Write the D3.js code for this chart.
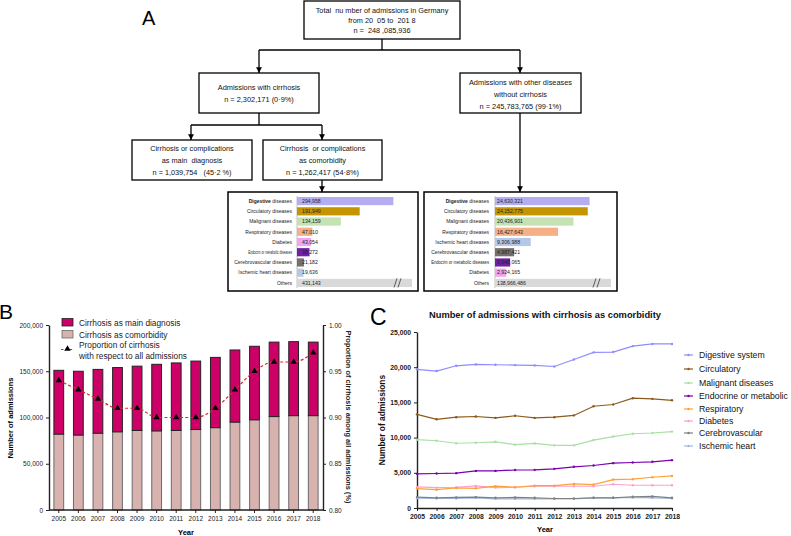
<!DOCTYPE html>
<html><head><meta charset="utf-8">
<script src="https://cdn.jsdelivr.net/npm/d3@7"></script>
<style>body{margin:0;background:#fff}svg{display:block}text{font-family:"Liberation Sans",Arial,sans-serif}</style>
</head><body>
<svg id="c" width="791" height="536"></svg>
<script>
// ---------------- DATA ----------------
const flowTotal = ["Total  nu mber of admissions in Germany", "from 20  05 to  201 8", "n =  248 ,085,936"];
const flowCirr = ["Admissions with cirrhosis", "n = 2,302,171 (0·9%)"];
const flowOther = ["Admissions with other diseases", "without cirrhosis", "n = 245,783,765 (99·1%)"];
const flowMain = ["Cirrhosis or complications", "as main  diagnosis", "n = 1,039,754   (45·2 %)"];
const flowComorb = ["Cirrhosis  or complications", "as comorbidity", "n = 1,262,417 (54·8%)"];

const comorbCats = ["Digestive diseases", "Circulatory diseases", "Malignant diseases", "Respiratory diseases", "Diabetes", "Endocrin or metabolic diseases", "Cerebrovascular diseases", "Ischemic heart diseases", "Others"];
const comorbVals = [294958, 191949, 134159, 47010, 43054, 38272, 21182, 19636, 431143];
const otherCats = ["Digestive diseases", "Circulatory diseases", "Malignant diseases", "Respiratory diseases", "Ischemic heart diseases", "Cerebrovascular diseases", "Endocrin or metabolic diseases", "Diabetes", "Others"];
const otherVals = [24630321, 24152775, 20436901, 16427643, 9306988, 4987421, 3948065, 2924165, 138966486];

const years = [2005, 2006, 2007, 2008, 2009, 2010, 2011, 2012, 2013, 2014, 2015, 2016, 2017, 2018];
const mainDiag = [69000, 69000, 69000, 69500, 69500, 72000, 73000, 74000, 76000, 78000, 79500, 80500, 80000, 79500];
const comorbidity = [82000, 81000, 83000, 84500, 86000, 85500, 86000, 87000, 89000, 95000, 97500, 101000, 102000, 102000];
const proportion = [0.94, 0.93, 0.92, 0.91, 0.91, 0.90, 0.90, 0.90, 0.91, 0.93, 0.95, 0.96, 0.96, 0.97];

const seriesNames = ["Digestive system", "Circulatory", "Malignant diseases", "Endocrine or metabolic", "Respiratory", "Diabetes", "Cerebrovascular", "Ischemic heart"];
const digestive = [19700, 19450, 20200, 20400, 20350, 20300, 20250, 20100, 21100, 22100, 22150, 23000, 23300, 23300];
const circulatory = [13300, 12600, 12900, 13000, 12800, 13100, 12800, 12900, 13150, 14450, 14700, 15600, 15500, 15300];
const malignant = [9700, 9550, 9200, 9270, 9400, 9000, 9170, 8900, 8900, 9650, 10150, 10550, 10650, 10850];
const endocrine = [4850, 4900, 4950, 5270, 5270, 5400, 5420, 5560, 5850, 6040, 6370, 6460, 6560, 6800];
const respiratory = [2760, 2600, 2850, 2800, 3100, 2950, 3180, 3180, 3420, 3330, 4040, 4090, 4370, 4560];
const diabetes = [3000, 2900, 2950, 3140, 2900, 2950, 3090, 3090, 3090, 3090, 3370, 3230, 3230, 3230];
const cerebro = [1550, 1450, 1500, 1550, 1450, 1500, 1450, 1350, 1350, 1450, 1450, 1600, 1650, 1450];
const ischemic = [1400, 1350, 1350, 1450, 1300, 1300, 1300, 1300, 1300, 1450, 1450, 1500, 1450, 1350];

const bTicks = [0, 50000, 100000, 150000, 200000];
const bRightTicks = [0.80, 0.85, 0.90, 0.95, 1.00];
const cTicks = [0, 5000, 10000, 15000, 20000, 25000];

// ---------------- STYLE ----------------
const catColors = {
  "Digestive diseases": "#b4aef0", "Circulatory diseases": "#c49500", "Malignant diseases": "#c5e2b3",
  "Respiratory diseases": "#f5b086", "Diabetes": "#f4a4ef", "Endocrin or metabolic diseases": "#6f1fa8",
  "Cerebrovascular diseases": "#757070", "Ischemic heart diseases": "#b6c8ea", "Others": "#d9d9d9"
};
const lineColors = ["#8f8cff", "#8c5a1c", "#a8e0a5", "#7a00b2", "#ffa03a", "#ff9fd0", "#808080", "#9dbbe0"];
const seriesVals = [digestive, circulatory, malignant, endocrine, respiratory, diabetes, cerebro, ischemic];
const OS = '"Open Sans",sans-serif';

const svg = d3.select("#c");

// ---------------- PANEL A: FLOWCHART ----------------
svg.append("text").attr("x", 142).attr("y", 25).attr("font-size", 20).text("A");
svg.append("defs").append("marker").attr("id", "ah").attr("viewBox", "0 0 10 10")
  .attr("refX", 10).attr("refY", 5).attr("markerWidth", 4.5).attr("markerHeight", 4.5).attr("orient", "auto")
  .append("path").attr("d", "M0,0L10,5L0,10z").attr("fill", "#000");

function box(x, y, w, h, lines, ys, fs) {
  svg.append("rect").attr("x", x).attr("y", y).attr("width", w).attr("height", h)
    .attr("fill", "#fff").attr("stroke", "#000").attr("stroke-width", 1.3);
  lines.forEach((t, i) => svg.append("text").attr("x", x + w / 2).attr("y", ys[i])
    .attr("text-anchor", "middle").attr("font-size", fs).style("white-space", "pre").attr("fill", "#111").text(t));
}
function seg(pts, arrow) {
  const p = svg.append("path").attr("d", d3.line()(pts)).attr("fill", "none").attr("stroke", "#000").attr("stroke-width", 1.3);
  if (arrow) p.attr("marker-end", "url(#ah)");
}
seg([[382, 39], [382, 50]]);
seg([[259, 50], [520, 50]]);
seg([[259, 50], [259, 73]], true);
seg([[520, 50], [520, 73]], true);
seg([[259, 113], [259, 125]]);
seg([[191, 125], [322, 125]]);
seg([[191, 125], [191, 140]], true);
seg([[322, 125], [322, 140]], true);
seg([[322, 180], [322, 192]], true);
seg([[520, 113], [520, 192]], true);

box(304, 1, 156, 38, flowTotal, [12.5, 22.5, 32.5], 7.3);
box(199, 73, 120, 40, flowCirr, [89.5, 101.5], 7.4);
box(460, 73, 121, 40, flowOther, [84.5, 96.5, 108.5], 7.4);
box(132, 140, 120, 40, flowMain, [150.5, 162.5, 174.5], 7.3);
box(263, 140, 119, 40, flowComorb, [150.5, 162.5, 174.5], 7.3);

function barPanel(bx, by, bw, bh, cats, vals, labelX, barX, maxV, maxW, othersW, padTxt, endoW) {
  svg.append("rect").attr("x", bx).attr("y", by).attr("width", bw).attr("height", bh)
    .attr("fill", "#fff").attr("stroke", "#000").attr("stroke-width", 1.5);
  const yb = d3.scaleBand().domain(cats).range([by + 5, by + bh - 4]).paddingInner(0.2);
  const xs = d3.scaleLinear().domain([0, maxV]).range([0, maxW]);
  svg.append("line").attr("x1", barX).attr("x2", barX).attr("y1", by + 4).attr("y2", by + bh - 3)
    .attr("stroke", "#9a9a9a").attr("stroke-width", 0.6);
  cats.forEach((c, i) => {
    const w = c === "Others" ? othersW : xs(vals[i]);
    const y0 = yb(c), h = yb.bandwidth();
    svg.append("rect").attr("x", barX).attr("y", y0).attr("width", w).attr("height", h).attr("fill", catColors[c]);
    const ty = y0 + h / 2 + 1.8;
    const t = svg.append("text").attr("x", labelX).attr("y", ty).attr("text-anchor", "end")
      .attr("font-size", 5).attr("fill", "#222");
    if (c.startsWith("Digestive")) {
      t.append("tspan").attr("font-weight", "bold").text("Digestive");
      t.append("tspan").text(" diseases");
    } else t.text(c);
    if (c.startsWith("Endocrin")) {
      const nat = t.node().getComputedTextLength();
      t.attr("x", 0).attr("y", 0).attr("transform", `translate(${labelX},${ty}) scale(${endoW / nat},1)`);
    }
    svg.append("text").attr("x", barX + padTxt).attr("y", ty).attr("font-size", 5.2)
      .attr("fill", "#222").text(d3.format(",")(vals[i]));
    if (c === "Others") {
      const bxk = barX + othersW - 18;
      [0, 4].forEach(o => svg.append("line").attr("x1", bxk + o).attr("x2", bxk + o + 3).attr("y1", y0 + h + 0.5).attr("y2", y0 - 0.5)
        .attr("stroke", "#222").attr("stroke-width", 0.7));
    }
  });
}
barPanel(228, 192, 190, 99, comorbCats, comorbVals, 292, 297, 300000, 98, 115, 5, 44);
barPanel(424, 192, 193, 99, otherCats, otherVals, 489, 495, 25000000, 96, 116, 2, 58);

// ---------------- PANEL B ----------------
svg.append("text").attr("x", -1).attr("y", 319).attr("font-size", 21).text("B");
const xB = d3.scaleBand().domain(years).range([49, 323]).paddingInner(0.5).paddingOuter(0.25);
const yB = d3.scaleLinear().domain([0, 200000]).range([510, 325]);
const yR = d3.scaleLinear().domain([0.80, 1.00]).range([510, 325]);
const gB = svg.append("g");
years.forEach((yr, i) => {
  gB.append("rect").attr("x", xB(yr)).attr("width", xB.bandwidth()).attr("y", yB(comorbidity[i]))
    .attr("height", yB(0) - yB(comorbidity[i])).attr("fill", "#d7b2ae").attr("stroke", "#6b6b6b").attr("stroke-width", 1);
  gB.append("rect").attr("x", xB(yr)).attr("width", xB.bandwidth()).attr("y", yB(comorbidity[i] + mainDiag[i]))
    .attr("height", yB(comorbidity[i]) - yB(comorbidity[i] + mainDiag[i])).attr("fill", "#cc0066").attr("stroke", "#222").attr("stroke-width", 1);
});
const lineB = d3.line().x((d, i) => xB(years[i]) + xB.bandwidth() / 2).y(d => yR(d)).curve(d3.curveMonotoneX);
gB.append("path").attr("d", lineB(proportion)).attr("fill", "none").attr("stroke", "#d42a2a")
  .attr("stroke-width", 1.2).attr("stroke-dasharray", "3,2.2");
proportion.forEach((p, i) => gB.append("path").attr("d", d3.symbol(d3.symbolTriangle, 18)())
  .attr("transform", `translate(${xB(years[i]) + xB.bandwidth() / 2},${yR(p)})`).attr("fill", "#000"));

function styleAxis(g, fs, bold) {
  g.selectAll("path").attr("stroke", "#222").attr("stroke-width", 1.4);
  g.selectAll("line").attr("stroke", "#222").attr("stroke-width", 1);
  g.selectAll("text").attr("font-size", fs).attr("fill", "#222").attr("font-family", '"Liberation Sans",Arial,sans-serif')
    .attr("font-weight", bold ? "bold" : "normal");
}
const axL = svg.append("g").attr("transform", "translate(49,0)")
  .call(d3.axisLeft(yB).tickValues(bTicks).tickFormat(d3.format(",")).tickSize(3).tickSizeOuter(0));
styleAxis(axL, 6.5, false);
const axR = svg.append("g").attr("transform", "translate(323,0)")
  .call(d3.axisRight(yR).tickValues(bRightTicks).tickFormat(d3.format(".2f")).tickSize(3).tickSizeOuter(0));
styleAxis(axR, 6.5, false);
const axBB = svg.append("g").attr("transform", "translate(0,510)")
  .call(d3.axisBottom(xB).tickSize(3).tickSizeOuter(0));
axBB.select("path").attr("d", "M49,0H323");
styleAxis(axBB, 6.5, false);
svg.append("text").attr("x", 186).attr("y", 535).attr("text-anchor", "middle").attr("font-size", 7.5)
  .attr("font-weight", "bold").attr("font-family", OS).text("Year");
svg.append("text").attr("transform", "translate(13,418) rotate(-90)").attr("text-anchor", "middle")
  .attr("font-size", 7.5).attr("font-weight", "bold").attr("font-family", OS).text("Number of admissions");
svg.append("text").attr("transform", "translate(346,417) rotate(90)").attr("text-anchor", "middle")
  .attr("font-size", 7.4).attr("font-weight", 600).attr("font-family", OS).attr("fill", "#222")
  .text("Proportion of cirrhosis among all admissions (%)");

// legend B
const legB = svg.append("g").attr("font-family", OS).attr("font-size", 8.3).attr("fill", "#222");
legB.append("rect").attr("x", 62).attr("y", 318.5).attr("width", 11).attr("height", 7.5).attr("fill", "#cc0066").attr("stroke", "#222").attr("stroke-width", 0.8);
legB.append("rect").attr("x", 62).attr("y", 330.5).attr("width", 11).attr("height", 7.5).attr("fill", "#d7b2ae").attr("stroke", "#6b6b6b").attr("stroke-width", 0.8);
legB.append("line").attr("x1", 61).attr("x2", 74).attr("y1", 349.5).attr("y2", 349.5).attr("stroke", "#d42a2a").attr("stroke-width", 1.2).attr("stroke-dasharray", "2.5,1.8");
legB.append("path").attr("d", d3.symbol(d3.symbolTriangle, 18)()).attr("transform", "translate(67.5,349)").attr("fill", "#000");
[["Cirrhosis as main diagnosis", 325.5], ["Cirrhosis as comorbidity", 337.5], ["Proportion of cirrhosis", 347.5], ["with respect to all admissions", 358.5]]
  .forEach(([t, y]) => legB.append("text").attr("x", 79).attr("y", y).text(t));

// ---------------- PANEL C ----------------
svg.append("text").attr("x", 370).attr("y", 325).attr("font-size", 23).text("C");
svg.append("text").attr("x", 545).attr("y", 318).attr("text-anchor", "middle").attr("font-size", 9.3)
  .attr("font-weight", "bold").attr("font-family", OS).attr("fill", "#111")
  .text("Number of admissions with cirrhosis as comorbidity");
const xC = d3.scaleLinear().domain([2005, 2018]).range([417, 672]);
const yC = d3.scaleLinear().domain([0, 25000]).range([508, 332]);
const axCL = svg.append("g").attr("transform", "translate(417,0)")
  .call(d3.axisLeft(yC).tickValues(cTicks).tickFormat(d3.format(",")).tickSize(3).tickSizeOuter(0));
styleAxis(axCL, 6.8, true);
const axCB = svg.append("g").attr("transform", "translate(0,508)")
  .call(d3.axisBottom(xC).tickValues(years).tickFormat(d3.format("d")).tickSize(3).tickSizeOuter(0));
styleAxis(axCB, 6.8, true);
svg.append("text").attr("x", 545).attr("y", 532).attr("text-anchor", "middle").attr("font-size", 7.5)
  .attr("font-weight", "bold").attr("font-family", OS).text("Year");
svg.append("text").attr("transform", "translate(385,420) rotate(-90)").attr("text-anchor", "middle")
  .attr("font-size", 8.4).attr("font-weight", 600).attr("font-family", OS).attr("fill", "#111")
  .text("Number of admissions");

const lineC = d3.line().x((d, i) => xC(years[i])).y(d => yC(d));
const drawOrder = [7, 6, 5, 4, 3, 2, 1, 0];
drawOrder.forEach(k => {
  svg.append("path").attr("d", lineC(seriesVals[k])).attr("fill", "none").attr("stroke", lineColors[k]).attr("stroke-width", 1.2);
  seriesVals[k].forEach((v, i) => svg.append("circle").attr("cx", xC(years[i])).attr("cy", yC(v)).attr("r", 1.2).attr("fill", lineColors[k]));
});

const legC = svg.append("g").attr("font-family", OS).attr("font-size", 8.7).attr("fill", "#111");
const legYs = [355, 369, 383, 396, 409, 421, 433, 446];
seriesNames.forEach((n, k) => {
  legC.append("line").attr("x1", 684).attr("x2", 693).attr("y1", legYs[k]).attr("y2", legYs[k]).attr("stroke", lineColors[k]).attr("stroke-width", 1.2);
  legC.append("circle").attr("cx", 688.5).attr("cy", legYs[k]).attr("r", 1.2).attr("fill", lineColors[k]);
  legC.append("text").attr("x", 699).attr("y", legYs[k] + 3).text(n);
});
</script>
</body></html>
